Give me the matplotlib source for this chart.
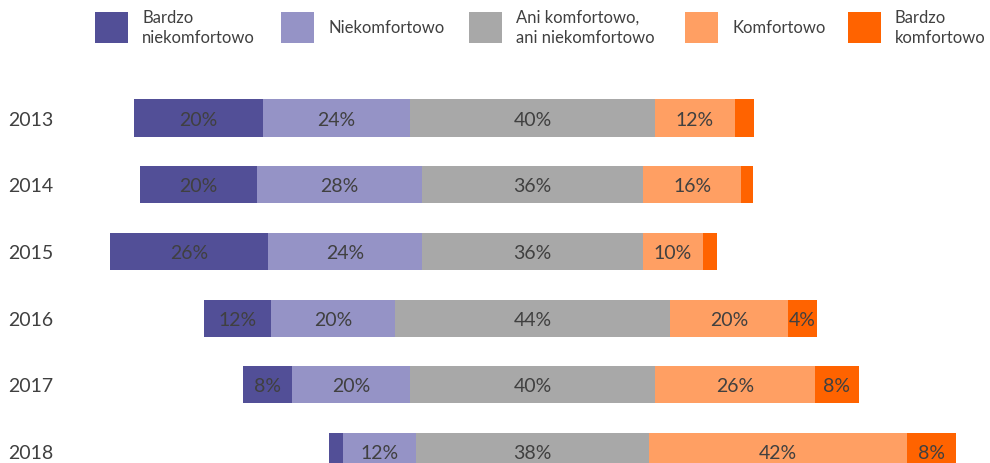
import matplotlib.pyplot as plt
import matplotlib.patches as patches
import numpy as np

plt.rcParams['font.family'] = ['Lato', 'DejaVu Sans']

# Data (shares in %)
years = ['2013', '2014', '2015', '2016', '2017', '2018']
bardzo_niekomf = [21.0, 19.0, 25.9, 10.9, 8.0, 2.3]
niekomf = [24.0, 27.0, 25.1, 20.2, 19.2, 12.0]
neutral = [40.0, 36.1, 36.1, 45.0, 40.1, 38.0]
komf = [13.0, 16.0, 9.8, 19.2, 26.1, 42.1]
bardzo_komf = [3.1, 2.0, 2.2, 4.8, 7.1, 8.0]

# printed labels (None = not shown)
lab_bardzo_niekomf = [20, 20, 26, 12, 8, None]
lab_niekomf = [24, 28, 24, 20, 20, 12]
lab_neutral = [40, 36, 36, 44, 40, 38]
lab_komf = [12, 16, 10, 20, 26, 42]
lab_bardzo_komf = [None, None, None, 4, 8, 8]

series_names = ['Bardzo\nniekomfortowo', 'Niekomfortowo',
                'Ani komfortowo,\nani niekomfortowo', 'Komfortowo',
                'Bardzo\nkomfortowo']
COLORS = ['#524F97', '#9593C6', '#A8A8A8', '#FF9F63', '#FF6300']

series = [bardzo_niekomf, niekomf, neutral, komf, bardzo_komf]
labels = [lab_bardzo_niekomf, lab_niekomf, lab_neutral, lab_komf, lab_bardzo_komf]

W, H = 990, 463
fig = plt.figure(figsize=(W / 100, H / 100), dpi=100)
ax = fig.add_axes([0, 0, 1, 1])

# pixel mapping: centre of the neutral segment at x=532.5px, 6.125 px per %
px_per_pct = 6.125
x_center = 532.5
ax.set_xlim(-x_center / px_per_pct, (W - x_center) / px_per_pct)
row0, row_step = 118.0, 66.7
ax.set_ylim((H - row0) / row_step, -row0 / row_step)
ax.axis('off')

vals = np.array(series)
y = np.arange(len(years))
left = -vals[0] - vals[1] - vals[2] / 2.0

for k in range(len(series)):
    ax.barh(y, vals[k], left=left, height=0.555, color=COLORS[k], linewidth=0)
    for i in range(len(years)):
        if labels[k][i] is not None:
            ax.text(left[i] + vals[k][i] / 2.0, y[i] + 0.03, f"{labels[k][i]}%",
                    ha='center', va='center', fontsize=14, color='#404040')
    left = left + vals[k]

for i, yr in enumerate(years):
    ax.text(8 / W, y[i] + 0.03, yr, transform=ax.get_yaxis_transform(),
            ha='left', va='center', fontsize=14, color='#404040')

# legend drawn by hand
leg_x = [95, 281, 469, 685, 848]
for k, name in enumerate(series_names):
    x0 = leg_x[k]
    fig.add_artist(patches.Rectangle((x0 / W, 1 - 43 / H), 33 / W, 31 / H,
                                     transform=fig.transFigure,
                                     facecolor=COLORS[k], edgecolor='none'))
    fig.text((x0 + 47) / W, 1 - 28 / H, name, ha='left', va='center',
             fontsize=12, color='#404040', linespacing=1.35)

plt.savefig('out.png', dpi=100)
plt.close()
